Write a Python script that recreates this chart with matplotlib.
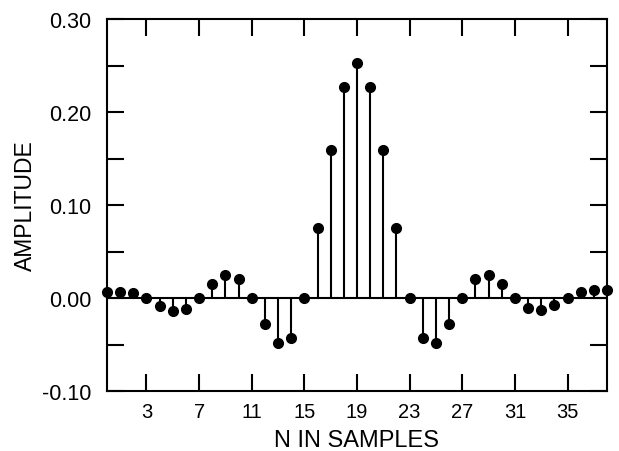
import matplotlib
matplotlib.use('Agg')
import matplotlib.pyplot as plt
import numpy as np

# Filter impulse response
n = list(range(39))
amplitude = [0.0066, 0.0066, 0.0055, 0.0, -0.0087, -0.0142, -0.0117, 0.0,
             0.0146, 0.0244, 0.0200, 0.0, -0.0284, -0.0488, -0.0426, 0.0,
             0.0750, 0.1596, 0.2270, 0.2528, 0.2270, 0.1596, 0.0750, 0.0,
             -0.0426, -0.0484, -0.0284, 0.0, 0.0200, 0.0244, 0.0146, 0.0,
             -0.0110, -0.0130, -0.0073, 0.0, 0.0069, 0.0084, 0.0090]
xticks = [3, 7, 11, 15, 19, 23, 27, 31, 35]
yticks = [-0.10, 0.00, 0.10, 0.20, 0.30]
yminor = [-0.05, 0.05, 0.15, 0.25]

plt.rcParams['font.family'] = ['Liberation Sans', 'DejaVu Sans']

fig = plt.figure(figsize=(6.19, 4.52), dpi=100)
ax = fig.add_axes([107 / 619, 1 - 392 / 452, 500 / 619, 372 / 452])

markerline, stemlines, baseline = ax.stem(n, amplitude, basefmt='k-')
plt.setp(markerline, color='black', markersize=7, clip_on=False, zorder=3)
plt.setp(stemlines, color='black', linewidth=1.5)
plt.setp(baseline, color='black', linewidth=1.5)

ax.set_xlim(0, 38)
ax.set_ylim(-0.10, 0.30)
ax.set_xticks(xticks)
ax.set_yticks(yticks)
ax.set_yticklabels([f'{v:.2f}' for v in yticks])
ax.set_yticks(yminor, minor=True)

ax.tick_params(which='both', direction='in', length=12, width=1.5,
               top=True, right=True)
ax.tick_params(axis='y', pad=11, labelsize=15.5)
ax.tick_params(axis='x', pad=8, labelsize=14.5)
for s in ax.spines.values():
    s.set_linewidth(1.5)

ax.set_xlabel('N IN SAMPLES', fontsize=17, labelpad=6)
ax.set_ylabel('AMPLITUDE', fontsize=16.5, labelpad=4)

fig.savefig('out.png', dpi=100)
